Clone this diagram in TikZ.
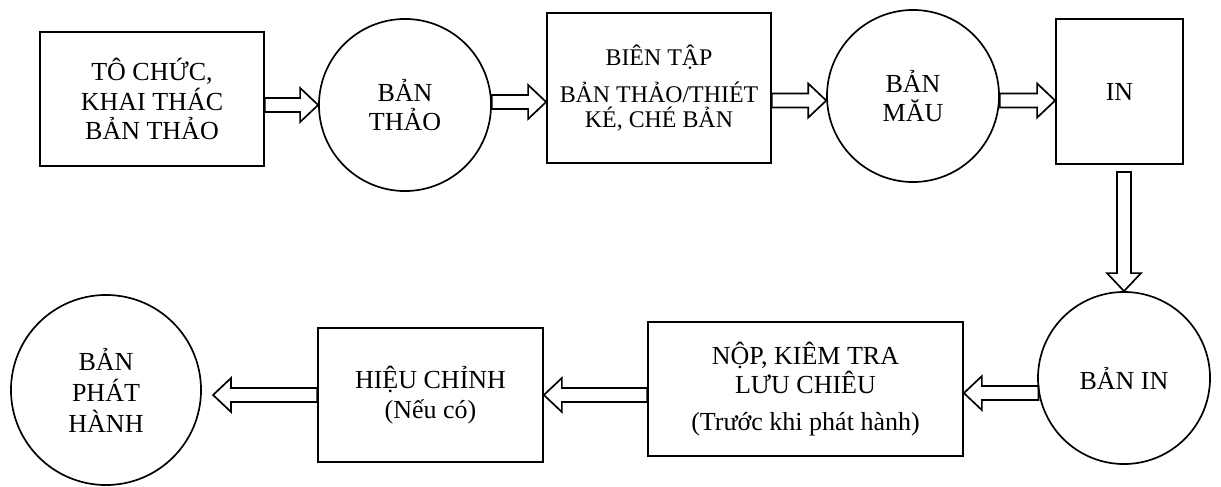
\documentclass[tikz,border=0pt]{standalone}
\usepackage{fontspec}
\setmainfont{Liberation Serif}
\usetikzlibrary{calc}

\begin{document}
\begin{tikzpicture}[x=0.025cm,y=-0.025cm]
\tikzstyle{every node}=[font=\fontsize{18.5}{21}\selectfont,align=center,line width=1.2pt]
\tikzstyle{box}=[rectangle,draw,inner sep=2pt]
\tikzstyle{disc}=[circle,draw,inner sep=0pt,minimum size=4.3cm]
\tikzstyle{hollow}=[draw,line width=1.2pt,line join=miter,to path={
  let \p1=($(\tikztotarget)-(\tikztostart)$),
      \n1={atan2(\y1,\x1)}, \n2={veclen(\x1,\y1)-0.45cm} in
  (\tikztostart) -- ++(\n1+90:0.175cm) -- ++(\n1:{\n2*1pt}) -- ++(\n1+90:0.25cm)
  -- (\tikztotarget) -- ($(\tikztotarget)+(\n1+180:0.45cm)+(\n1-90:0.425cm)$)
  -- ++(\n1+90:0.25cm) -- ++(\n1+180:{\n2*1pt}) -- cycle}]
\useasboundingbox (0,0) rectangle (1221,486);
% top row
\node[box,minimum width=5.6cm,minimum height=3.35cm] (tc) at (152,99) {TÔ CHỨC,\\KHAI THÁC\\BẢN THẢO};
\node[disc] (bt) at (405,105) {BẢN\\THẢO};
\node[box,minimum width=5.6cm,minimum height=3.75cm,font=\fontsize{17}{20}\selectfont] (btap) at (659,88) {BIÊN TẬP\\[6pt]BẢN THẢO/THIÉT\\[-2pt]KÉ, CHÉ BẢN};
\node[disc] (bm) at (913,96) {BẢN\\MĂU};
\node[box,minimum width=3.175cm,minimum height=3.625cm] (in) at (1119.5,91.5) {IN};
% bottom row
\node[disc] (bi) at (1124,378) {BẢN IN};
\node[box,minimum width=7.875cm,minimum height=3.35cm] (nop) at (805.5,389) {NỘP, KIÊM TRA\\LƯU CHIÊU\\[5pt](Trước khi phát hành)};
\node[box,minimum width=5.625cm,minimum height=3.35cm] (hc) at (430.5,395) {HIỆU CHỈNH\\(Nếu có)};
\node[disc,minimum size=4.75cm,font=\fontsize{18.5}{22}\selectfont] (bph) at (106,390) {BẢN\\PHÁT\\HÀNH};
\coordinate (in s) at ([yshift=-0.18cm]in.south -| bi.north);
\coordinate (bph e) at ([xshift=0.28cm]bph.east |- hc.west);
% arrows
\draw[hollow] (tc.east |- bt.west) to (bt.west);
\draw[hollow] (bt.2) to (bt.2 -| btap.west);
\draw[hollow] (btap.east |- bm.183) to (bm.183);
\draw[hollow] (bm.-3) to (bm.-3 -| in.west);
\draw[hollow] (in s) to (bi.north);
\draw[hollow] (bi.190) to (bi.190 -| nop.east);
\draw[hollow] (nop.west |- hc.east) to (hc.east);
\draw[hollow] (hc.west) to (bph e);
\end{tikzpicture}
\end{document}
